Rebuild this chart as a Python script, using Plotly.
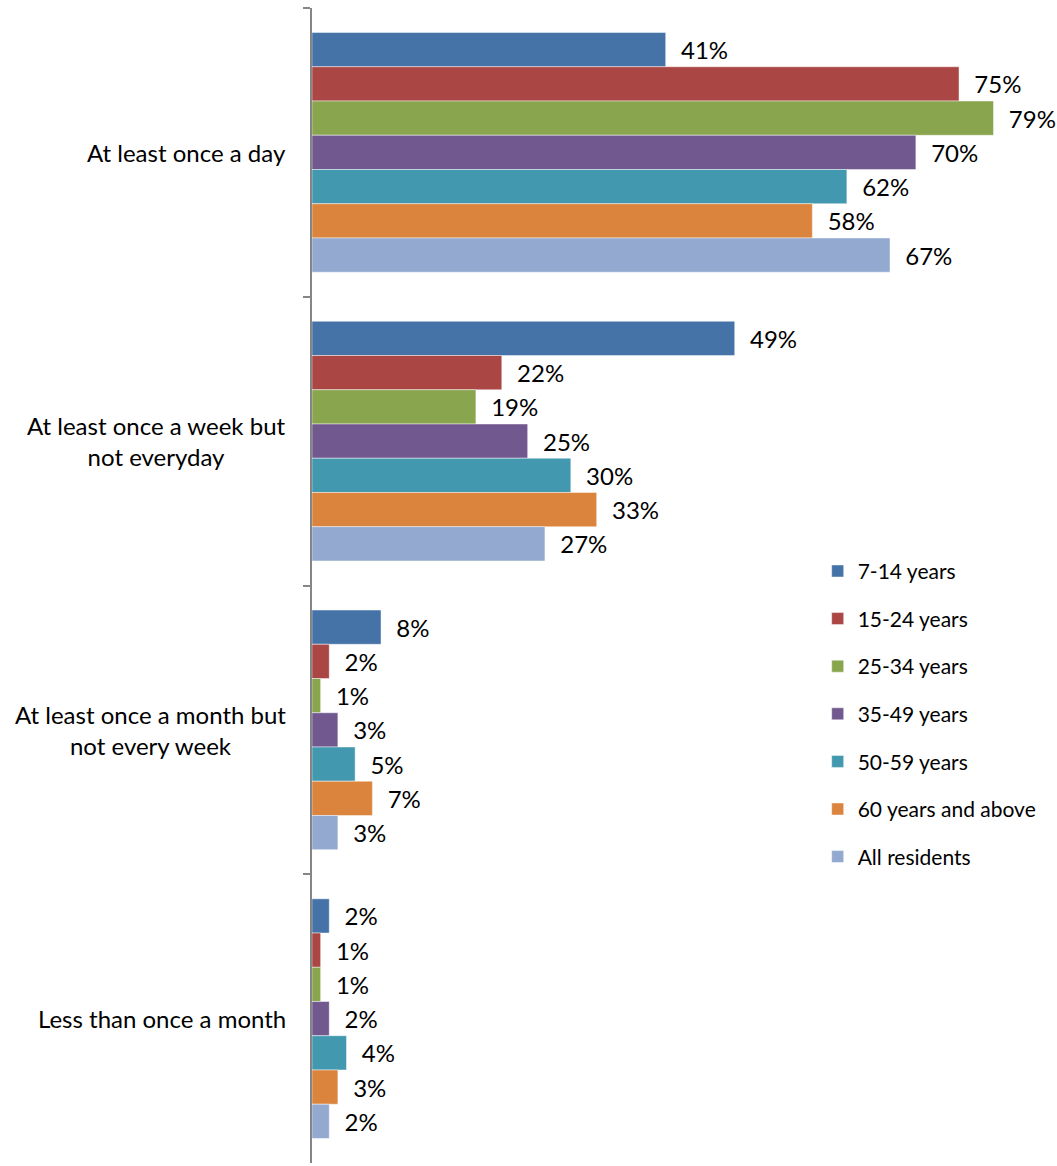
import plotly.graph_objects as go

# Frequency categories (top to bottom)
categories = [
    "At least once a day",
    "At least once a week but not everyday",
    "At least once a month but not every week",
    "Less than once a month",
]
category_labels = [
    "At least once a day",
    "At least once a week but<br>not everyday",
    "At least once a month but<br>not every week",
    "Less than once a month",
]

# Share of respondents (%) per age group, in category order
age_groups = ["7-14 years", "15-24 years", "25-34 years", "35-49 years",
              "50-59 years", "60 years and above", "All residents"]
age_7_14 = [41, 49, 8, 2]
age_15_24 = [75, 22, 2, 1]
age_25_34 = [79, 19, 1, 1]
age_35_49 = [70, 25, 3, 2]
age_50_59 = [62, 30, 5, 4]
age_60_plus = [58, 33, 7, 3]
all_residents = [67, 27, 3, 2]

series = [age_7_14, age_15_24, age_25_34, age_35_49,
          age_50_59, age_60_plus, all_residents]
colors = ["#4572A7", "#AA4643", "#89A54E", "#71588F",
          "#4198AF", "#DB843D", "#93A9CF"]

FONT = "Lato"

fig = go.Figure()
for name, vals, col in zip(age_groups, series, colors):
    fig.add_trace(go.Bar(
        y=categories,
        x=vals,
        orientation="h",
        name=name,
        legendgroup=name,
        marker=dict(color=col, line=dict(color="rgba(255,255,255,0.45)", width=1)),
        text=[f"\u00a0\u00a0{v}%" for v in vals],
        textposition="outside",
        textfont=dict(family=FONT, size=24, color="#000000"),
        cliponaxis=False,
    ))

annotations = []
for cat, lab in zip(categories, category_labels):
    annotations.append(dict(
        x=0, xref="paper", xanchor="right", xshift=-24,
        y=cat, yref="y", yanchor="middle",
        text=lab, align="center", showarrow=False,
        font=dict(family=FONT, size=24, color="#000000"),
    ))

fig.update_layout(
    width=1057,
    height=1166,
    margin=dict(l=312, r=10, t=8, b=3),
    paper_bgcolor="white",
    plot_bgcolor="white",
    barmode="group",
    bargap=0.17,
    bargroupgap=0,
    showlegend=True,
    legend=dict(
        x=0.688, xanchor="left",
        y=0.530, yanchor="top",
        traceorder="grouped",
        tracegroupgap=17.3,
        font=dict(family=FONT, size=21, color="#000000"),
        bgcolor="rgba(0,0,0,0)",
    ),
    xaxis=dict(visible=False, range=[0, 85.2]),
    yaxis=dict(
        autorange="reversed",
        showticklabels=False,
        showline=True,
        linecolor="#868686",
        linewidth=1.5,
        ticks="outside",
        tickson="boundaries",
        ticklen=7,
        tickcolor="#868686",
        tickwidth=1.5,
        showgrid=False,
        zeroline=False,
    ),
    annotations=annotations,
    font=dict(family=FONT),
)

fig.write_html("out.html")
